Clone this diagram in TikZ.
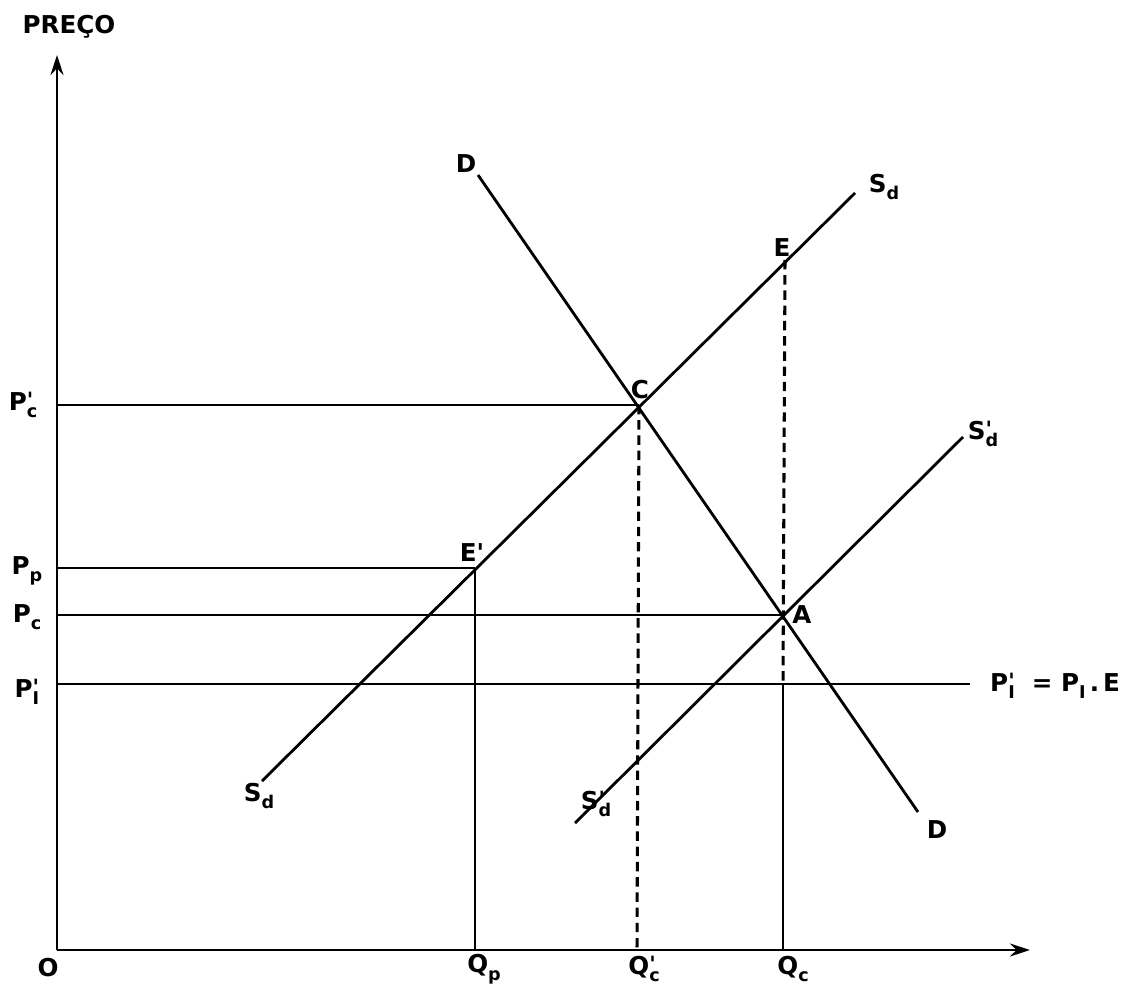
\documentclass[tikz,border=0pt]{standalone}
\usepackage{fontspec}
\setmainfont{DejaVu Sans}
\usetikzlibrary{arrows.meta}
\newcommand{\prm}{\textquotesingle}
\newcommand{\sbs}[1]{\raisebox{-0.3em}{\fontsize{15}{15}\selectfont #1}}
\newcommand{\sbp}[1]{\makebox[0pt][l]{\smash{\raisebox{0.1em}{\fontsize{18}{18}\selectfont\prm}}}\raisebox{-0.3em}{\fontsize{15}{15}\selectfont #1}}
\begin{document}
\begin{tikzpicture}[x=0.03cm,y=-0.03cm,
  ln/.style={line width=2.4pt},
  dsh/.style={line width=2.6pt,dash pattern=on 8pt off 5pt},
  ax/.style={line width=2.4pt,-{Stealth[length=17pt,width=11pt]}},
  lbl/.style={font=\bfseries\fontsize{21}{24}\selectfont,inner sep=0pt}]
\useasboundingbox (0,0) rectangle (1121,985);
% points
\coordinate (O) at (57,950);
\coordinate (Ytop) at (57,55);
\coordinate (Xend) at (1030,950);
\coordinate (C) at (639,405);
\coordinate (A) at (783,615);
\coordinate (E) at (785,260);
\coordinate (Ep) at (475,568);
\coordinate (Dt) at (478,175);
\coordinate (Db) at (918,812);
\coordinate (St) at (855,193);
\coordinate (Sb) at (262,781);
\coordinate (Spt) at (963,437);
\coordinate (Spb) at (575,823);
\coordinate (yPc') at (57,405);
\coordinate (yPp) at (57,568);
\coordinate (yPc) at (57,615);
\coordinate (yPI) at (57,684);
\coordinate (PIend) at (970,684);
\coordinate (QcI) at (783,684);
\coordinate (Qp) at (475,950);
\coordinate (Qc') at (637,950);
\coordinate (Qc) at (783,950);
% axes
\draw[ax] (O) -- (Ytop);
\draw[ax] (O) -- (Xend);
% curves
\draw[ln] (Dt) -- (Db);
\draw[ln] (Sb) -- (St);
\draw[ln] (Spb) -- (Spt);
% horizontals
\draw[ln] (yPc') -- (C);
\draw[ln] (yPp) -- (Ep);
\draw[ln] (yPc) -- (A);
\draw[ln] (yPI) -- (PIend);
% verticals
\draw[ln] (Ep) -- (Qp);
\draw[dsh] (C) -- (Qc');
\draw[dsh] (E) -- (QcI);
\draw[ln] (QcI) -- (Qc);
% labels
\node[lbl] (preco) at (69,27) {PREÇO};
\node[lbl] (lO) at (48,968) {O};
\node[lbl] (lPc') at (23,405) {P\sbp{c}};
\node[lbl] (lPp) at (27,571) {P\sbs{p}};
\node[lbl] (lPc) at (27,617) {P\sbs{c}};
\node[lbl] (lPI) at (27,692) {P\sbp{I}};
\node[lbl] (lQp) at (484,969) {Q\sbs{p}};
\node[lbl] (lQc') at (644,969) {Q\sbp{c}};
\node[lbl] (lQc) at (793,969) {Q\sbs{c}};
\node[lbl] (lDt) at (466,164) {D};
\node[lbl] (lDb) at (937,830) {D};
\node[lbl] (lSt) at (884,187) {S\sbs{d}};
\node[lbl] (lSb) at (259,796) {S\sbs{d}};
\node[lbl] (lSpt) at (983,434) {S\sbp{d}};
\node[lbl] (lSpb) at (596,804) {S\sbp{d}};
\node[lbl] (lE) at (782,248) {E};
\node[lbl] (lC) at (640,390) {C};
\node[lbl] (lEp) at (472,553) {E\prm};
\node[lbl] (lA) at (802,615) {A};
\node[lbl,anchor=west] (lPIE) at (990,686) {P\sbp{I}\ \ =\ P\sbs{I}\,.\,E};
\end{tikzpicture}
\end{document}
